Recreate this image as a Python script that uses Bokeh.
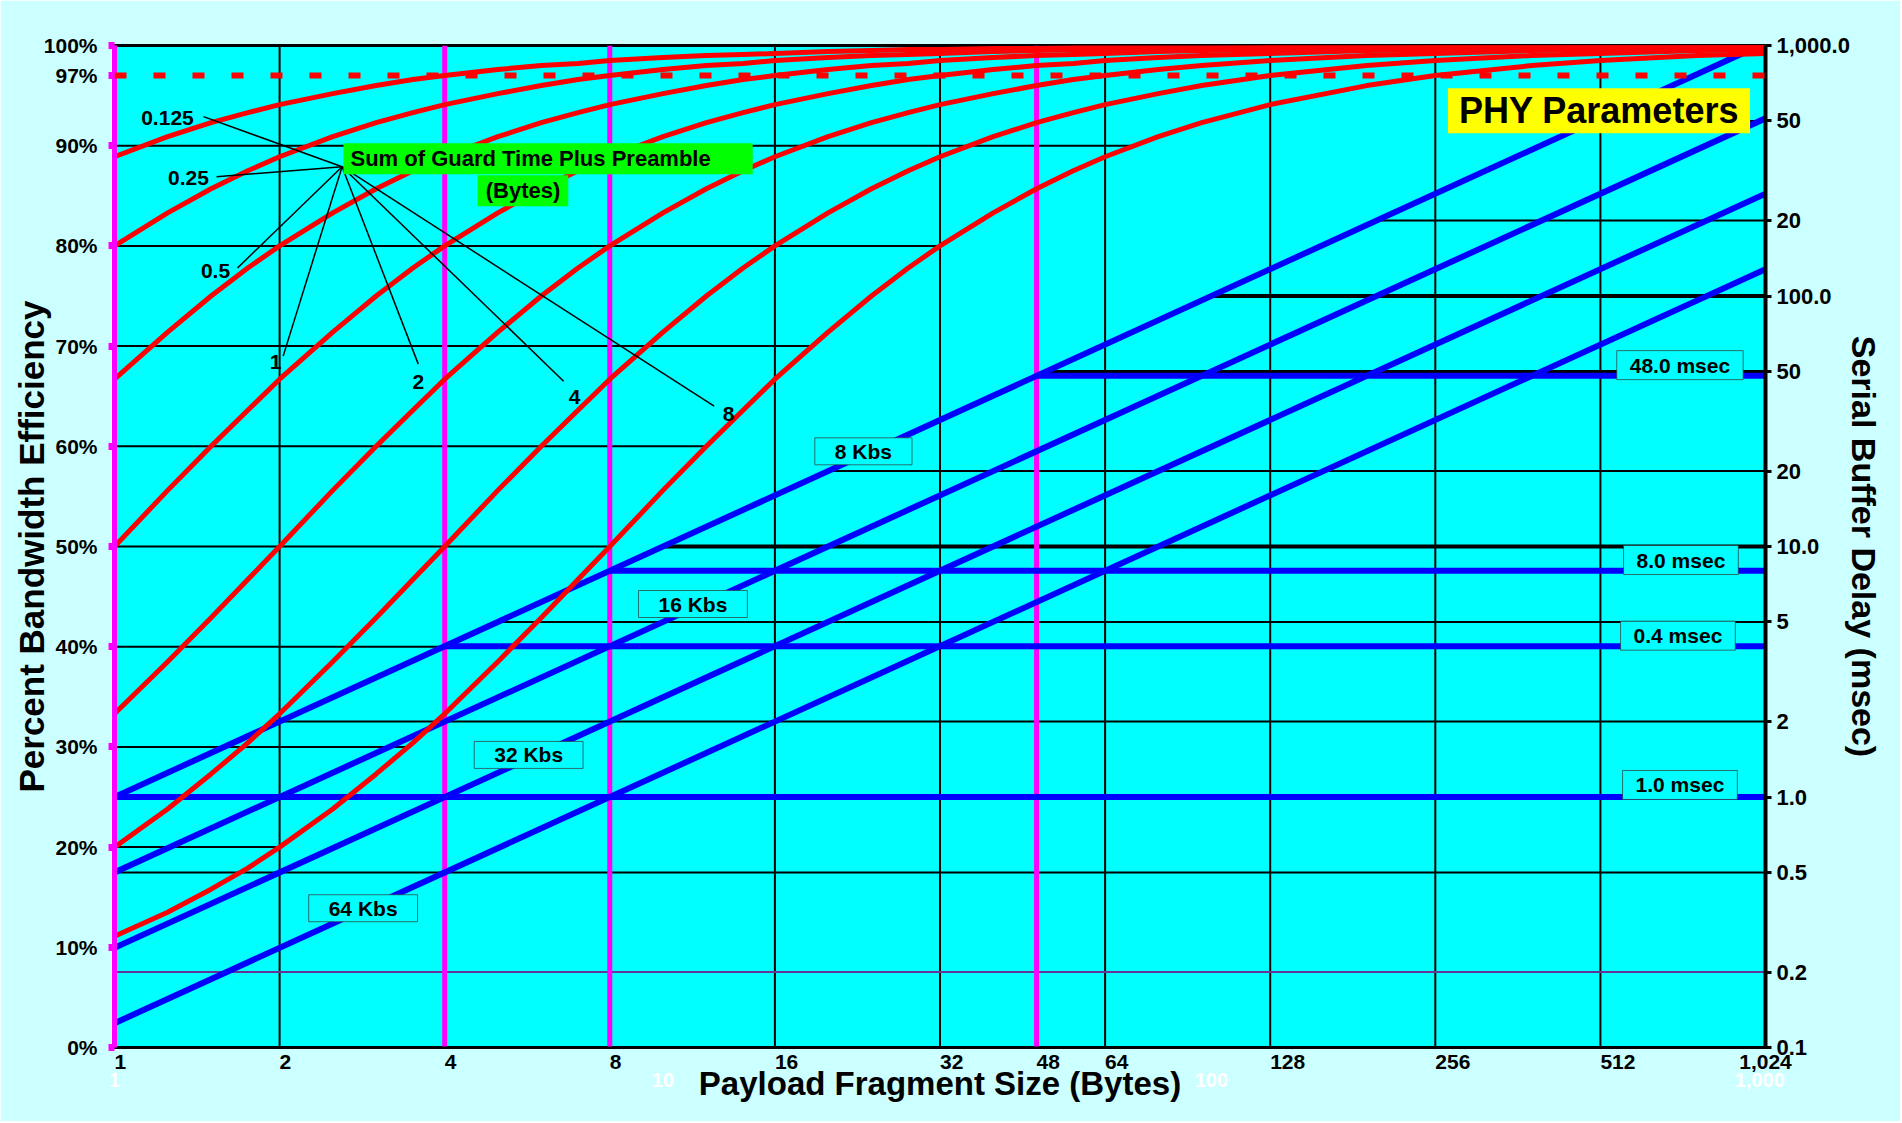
from bokeh.plotting import figure
from bokeh.models import Range1d, LogScale, LogAxis, FixedTicker, Label, Span
from bokeh.embed import file_html
from bokeh.resources import INLINE

# ---------------- data ----------------
sizes = [1, 1.25, 1.5, 1.75, 2, 2.5, 3, 3.5, 4, 5, 6, 7, 8, 10, 12, 14, 16, 20, 24, 28, 32,
         40, 48, 56, 64, 80, 96, 128, 192, 256, 384, 512, 768, 1024]
overhead_names = ["0.125", "0.25", "0.5", "1", "2", "4", "8"]
eff_g0125 = [88.9, 90.9, 92.3, 93.3, 94.1, 95.2, 96.0, 96.6, 97.0, 97.6, 98.0, 98.2, 98.5, 98.8, 99.0, 99.1, 99.2,
             99.4, 99.5, 99.6, 99.6, 99.7, 99.7, 99.8, 99.8, 99.8, 99.9, 99.9, 99.9, 100.0, 100.0, 100.0, 100.0, 100.0]
eff_g025 = [80.0, 83.3, 85.7, 87.5, 88.9, 90.9, 92.3, 93.3, 94.1, 95.2, 96.0, 96.6, 97.0, 97.6, 98.0, 98.2, 98.5,
            98.8, 99.0, 99.1, 99.2, 99.4, 99.5, 99.6, 99.6, 99.7, 99.7, 99.8, 99.9, 99.9, 99.9, 100.0, 100.0, 100.0]
eff_g05 = [66.7, 71.4, 75.0, 77.8, 80.0, 83.3, 85.7, 87.5, 88.9, 90.9, 92.3, 93.3, 94.1, 95.2, 96.0, 96.6, 97.0,
           97.6, 98.0, 98.2, 98.5, 98.8, 99.0, 99.1, 99.2, 99.4, 99.5, 99.6, 99.7, 99.8, 99.9, 99.9, 99.9, 100.0]
eff_g1 = [50.0, 55.6, 60.0, 63.6, 66.7, 71.4, 75.0, 77.8, 80.0, 83.3, 85.7, 87.5, 88.9, 90.9, 92.3, 93.3, 94.1,
          95.2, 96.0, 96.6, 97.0, 97.6, 98.0, 98.2, 98.5, 98.8, 99.0, 99.2, 99.5, 99.6, 99.7, 99.8, 99.9, 99.9]
eff_g2 = [33.3, 38.5, 42.9, 46.7, 50.0, 55.6, 60.0, 63.6, 66.7, 71.4, 75.0, 77.8, 80.0, 83.3, 85.7, 87.5, 88.9,
          90.9, 92.3, 93.3, 94.1, 95.2, 96.0, 96.6, 97.0, 97.6, 98.0, 98.5, 99.0, 99.2, 99.5, 99.6, 99.7, 99.8]
eff_g4 = [20.0, 23.8, 27.3, 30.4, 33.3, 38.5, 42.9, 46.7, 50.0, 55.6, 60.0, 63.6, 66.7, 71.4, 75.0, 77.8, 80.0,
          83.3, 85.7, 87.5, 88.9, 90.9, 92.3, 93.3, 94.1, 95.2, 96.0, 97.0, 98.0, 98.5, 99.0, 99.2, 99.5, 99.6]
eff_g8 = [11.1, 13.5, 15.8, 17.9, 20.0, 23.8, 27.3, 30.4, 33.3, 38.5, 42.9, 46.7, 50.0, 55.6, 60.0, 63.6, 66.7,
          71.4, 75.0, 77.8, 80.0, 83.3, 85.7, 87.5, 88.9, 90.9, 92.3, 94.1, 96.0, 97.0, 98.0, 98.5, 99.0, 99.2]
target_eff = 97

rate_names = ["8 Kbs", "16 Kbs", "32 Kbs", "64 Kbs"]
rate_sizes = [1, 1024]
delay_8k = [1.0, 1024]
delay_16k = [0.5, 512]
delay_32k = [0.25, 256]
delay_64k = [0.125, 128]

buffer_delays = [1.0, 4.0, 8.0, 48.0]
buffer_start_sizes = [1, 4, 8, 48]
buffer_names = ["1.0 msec", "0.4 msec", "8.0 msec", "48.0 msec"]

x_ticks = [1, 2, 4, 8, 16, 32, 48, 64, 128, 256, 512, 1024]
x_tick_labels = ["1", "2", "4", "8", "16", "32", "48", "64", "128", "256", "512", "1,024"]
x_decades = [1, 10, 100, 1000]
x_decade_labels = ["1", "10", "100", "1,000"]
pct_ticks = [0, 10, 20, 30, 40, 50, 60, 70, 80, 90, 97, 100]
pct_tick_labels = ["0%", "10%", "20%", "30%", "40%", "50%", "60%", "70%", "80%", "90%", "97%", "100%"]
delay_ticks = [0.1, 0.2, 0.5, 1, 2, 5, 10, 20, 50, 100, 200, 500, 1000]
delay_tick_labels = ["0.1", "0.2", "0.5", "1.0", "2", "5", "10.0", "20", "50", "100.0", "20", "50", "1,000.0"]

magenta_sizes = [1, 4, 8, 48]
grid_sizes = [2, 16, 32, 64, 128, 256, 512]
pct_grid = [20, 30, 40, 50, 60, 70, 80, 90]
pct_grid_end = [2, 3.43, 5.33, 8, 12, 18.7, 32, 72]
delay_grid = [0.2, 0.5, 2, 5, 10, 20, 50, 100, 200, 500]
delay_grid_start = [1, 1, 2, 5, 10, 20, 50, 100, 200, 500]

# ---------------- styles ----------------
FONT = "Liberation Sans"
RED = "#ff0000"
BLUE = "#0000ff"
MAG = "#ff00ff"
CYAN = "#00ffff"
LIGHT = "#ccffff"
NBSP = "\u00a0"

W, H = 1900, 1121
p = figure(width=W, height=H, x_axis_type="log",
           x_range=Range1d(1, 1024), y_range=Range1d(0, 100),
           output_backend="svg", toolbar_location=None,
           min_border_left=114, min_border_right=W - 1765,
           min_border_top=45, min_border_bottom=H - 1047,
           background_fill_color=CYAN, border_fill_color=LIGHT)
p.extra_y_ranges = {"delay": Range1d(0.1, 1000)}
p.extra_y_scales = {"delay": LogScale()}
p.grid.visible = False
p.outline_line_color = "black"
p.outline_line_width = 3


def style_labels(ax, size="21px", color="black"):
    ax.major_label_text_font = FONT
    ax.major_label_text_font_style = "bold"
    ax.major_label_text_font_size = size
    ax.major_label_text_color = color
    ax.minor_tick_line_color = None


def style_title(ax, text, size):
    ax.axis_label = text
    ax.axis_label_text_font = FONT
    ax.axis_label_text_font_style = "bold"
    ax.axis_label_text_font_size = size
    ax.axis_label_text_color = "black"


# bottom axis: size labels sit just right of their grid line (as in the original),
# done by padding the centred label with no-break spaces of equal width
def left_of_tick(t):
    if "," in t:
        return t
    return NBSP * (2 * len(t)) + t


xa = p.xaxis[0]
xa.ticker = FixedTicker(ticks=x_ticks)
xa.major_label_overrides = {k: left_of_tick(t) for k, t in zip(x_ticks, x_tick_labels)}
style_labels(xa)
xa.major_label_standoff = 2
xa.major_tick_out = 0
xa.major_tick_in = 0
xa.axis_line_color = "black"
xa.axis_line_width = 2

# second bottom axis (faint white decade labels + title)
xb = LogAxis(ticker=FixedTicker(ticks=x_decades),
             major_label_overrides=dict(zip(x_decades, x_decade_labels)))
style_labels(xb, size="20px", color="white")
xb.major_label_standoff = -9
xb.major_tick_line_color = None
xb.axis_line_color = None
style_title(xb, "Payload Fragment Size (Bytes)", "33px")
xb.axis_label_standoff = -25
p.add_layout(xb, "below")

# left axis
ya = p.yaxis[0]
ya.ticker = FixedTicker(ticks=pct_ticks)
ya.major_label_overrides = dict(zip(pct_ticks, pct_tick_labels))
style_labels(ya)
ya.major_label_standoff = 11
ya.major_tick_out = 6
ya.major_tick_in = 0
ya.major_tick_line_color = MAG
ya.major_tick_line_width = 7
ya.axis_line_color = MAG
ya.axis_line_width = 5
style_title(ya, "Percent Bandwidth Efficiency", "35px")
ya.axis_label_standoff = -10

# right axis
ra = LogAxis(y_range_name="delay", ticker=FixedTicker(ticks=delay_ticks),
             major_label_overrides=dict(zip(delay_ticks, delay_tick_labels)))
style_labels(ra, size="22px")
ra.major_label_standoff = 5
ra.major_tick_out = 6
ra.major_tick_in = 0
ra.major_tick_line_width = 3
ra.axis_line_color = "black"
ra.axis_line_width = 4
style_title(ra, "Serial Buffer Delay (msec)", "34px")
ra.axis_label_standoff = -8
p.add_layout(ra, "right")

# ---------------- grid-like segments ----------------
p.segment(x0=grid_sizes, y0=[0] * len(grid_sizes), x1=grid_sizes, y1=[100] * len(grid_sizes),
          line_color="black", line_width=2)
p.segment(x0=[1] * len(pct_grid), y0=pct_grid, x1=pct_grid_end, y1=pct_grid,
          line_color="black", line_width=2)
dg_w = [2, 2, 2, 2, 4, 2, 3, 4, 2, 2]
dg_c = ["#663399"] + ["black"] * 9
p.segment(x0=delay_grid_start, y0=delay_grid, x1=[1024] * len(delay_grid), y1=delay_grid,
          y_range_name="delay", line_color=dg_c, line_width=dg_w)
p.segment(x0=magenta_sizes, y0=[0] * 4, x1=magenta_sizes, y1=[100] * 4,
          line_color=MAG, line_width=5)

# ---------------- blue lines ----------------
for d in (delay_8k, delay_16k, delay_32k, delay_64k):
    p.line(rate_sizes, d, y_range_name="delay", line_color=BLUE, line_width=6)
p.segment(x0=buffer_start_sizes, y0=buffer_delays, x1=[1024] * 4, y1=buffer_delays,
          y_range_name="delay", line_color=BLUE, line_width=6)

# ---------------- red curves ----------------
for e in (eff_g0125, eff_g025, eff_g05, eff_g1, eff_g2, eff_g4, eff_g8):
    p.line(sizes, e, line_color=RED, line_width=5, line_join="round")

p.add_layout(Span(location=target_eff, dimension="width", line_color=RED,
                  line_width=6, line_dash="12 27"))

# ---------------- annotation leaders ----------------
hub_x, hub_y = 2.60, 87.9
leader_end_x = [1.453, 1.535, 1.676, 2.03, 3.58, 6.59, 12.4]
leader_end_y = [92.9, 86.9, 77.8, 69.0, 68.2, 66.5, 64.0]
p.segment(x0=[hub_x] * 7, y0=[hub_y] * 7, x1=leader_end_x, y1=leader_end_y,
          line_color="black", line_width=1.5)

label_x = [1.249, 1.364, 1.528, 1.966, 3.58, 6.90, 13.17]
label_y = [92.8, 86.8, 77.5, 68.4, 66.4, 64.9, 63.2]


def lab(x, y, t, size="21px", color="black", align="center", baseline="middle",
        bg=None, border=None, pad=None):
    kw = dict(x=x, y=y, text=t, text_font=FONT, text_font_style="bold",
              text_font_size=size, text_color=color, text_align=align,
              text_baseline=baseline)
    if bg is not None:
        kw["background_fill_color"] = bg
    if border is not None:
        kw["border_line_color"] = border
        kw["border_line_width"] = 1
        kw["border_line_alpha"] = 0.7
    if pad is not None:
        kw["padding"] = pad
    p.add_layout(Label(**kw))


for x, y, t in zip(label_x, label_y, overhead_names):
    lab(x, y, t)

lab(2.615, 88.7, "Sum of Guard Time Plus Preamble", size="22px", align="left",
    bg="#00ff00", pad=dict(left=7, right=42, top=3, bottom=3))
lab(5.556, 85.5, "(Bytes)", size="22px", bg="#00ff00",
    pad=dict(left=8, right=8, top=3, bottom=3))
lab(509, 93.5, "PHY Parameters", size="36px", bg="#ffff00",
    pad=dict(left=11, right=11, top=2, bottom=2))

rate_lx = [23.2, 11.34, 5.69, 2.84]
rate_ly = [59.5, 44.26, 29.2, 13.9]
for x, y, t in zip(rate_lx, rate_ly, rate_names):
    lab(x, y, t, bg=CYAN, border="#333333", pad=dict(left=20, right=20, top=2, bottom=2))

buf_lx = [715, 709, 718, 715]
buf_ly = [26.2, 41.1, 48.65, 68.1]
for x, y, t in zip(buf_lx, buf_ly, buffer_names):
    lab(x, y, t, bg=CYAN, border="#333333", pad=dict(left=13, right=13, top=3, bottom=3))

open("out.html", "w").write(file_html(p, INLINE))
